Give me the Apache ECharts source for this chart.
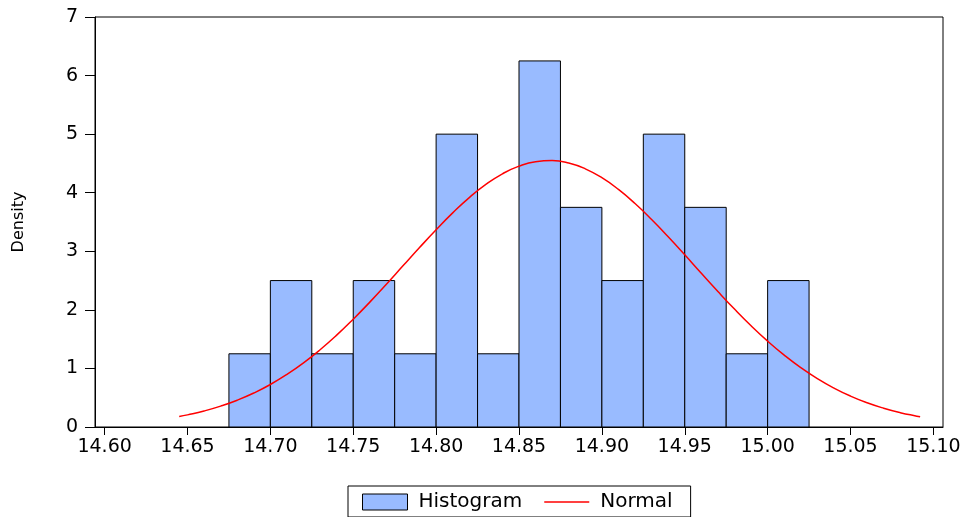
<!DOCTYPE html>
<html><head><meta charset="utf-8">
<script src="https://cdn.jsdelivr.net/npm/echarts@6/dist/echarts.min.js"></script>
<style>html,body{margin:0;padding:0;background:#fff}#c{width:967px;height:517px}</style>
</head><body><div id="c"></div>
<script>
// Histogram bins (left edges) and densities
var binStarts = [14.675,14.700,14.725,14.750,14.775,14.800,14.825,14.850,14.875,14.900,14.925,14.950,14.975,15.000];
var binWidth = 0.025;
var densities = [1.25,2.5,1.25,2.5,1.25,5,1.25,6.25,3.75,2.5,5,3.75,1.25,2.5];
// Normal curve points
var normalX = [14.645,14.65,14.66,14.67,14.68,14.69,14.70,14.71,14.72,14.73,14.74,14.75,14.76,14.77,14.78,14.79,14.80,14.81,14.82,14.83,14.84,14.85,14.86,14.87,14.88,14.89,14.90,14.91,14.92,14.93,14.94,14.95,14.96,14.97,14.98,14.99,15.00,15.01,15.02,15.03,15.04,15.05,15.06,15.07,15.08,15.09,15.092];
var normalY = [0.179,0.207,0.273,0.356,0.457,0.580,0.726,0.898,1.095,1.319,1.568,1.841,2.132,2.437,2.751,3.064,3.368,3.656,3.917,4.141,4.323,4.454,4.530,4.548,4.507,4.408,4.256,4.056,3.815,3.543,3.248,2.940,2.624,2.313,2.013,1.729,1.466,1.227,1.013,0.826,0.665,0.528,0.414,0.321,0.245,0.185,0.174];
var xTicks = [14.60,14.65,14.70,14.75,14.80,14.85,14.90,14.95,15.00,15.05,15.10];

var chart = echarts.init(document.getElementById('c'), null, {renderer:'canvas'});
var font = '"DejaVu Sans", sans-serif';
chart.setOption({
  animation: false,
  backgroundColor: '#fff',
  grid: {left:95, top:17, right:24, bottom:90, show:true, borderColor:'#000', borderWidth:1, backgroundColor:'transparent'},
  xAxis: {
    type:'value', min:14.5942, max:15.1058,
    axisLine:{show:true, lineStyle:{color:'#000', width:1}},
    axisTick:{show:true, length:8, customValues:xTicks, lineStyle:{color:'#000'}},
    axisLabel:{customValues:xTicks, formatter:function(v){return v.toFixed(2);}, color:'#000', fontSize:19, fontFamily:font, margin:11},
    splitLine:{show:false}
  },
  yAxis: {
    type:'value', min:0, max:7, interval:1,
    name:'Density', nameLocation:'middle', nameGap:68, nameRotate:90,
    nameTextStyle:{color:'#000', fontSize:16, fontFamily:font},
    axisLine:{show:true, lineStyle:{color:'#000', width:1}},
    axisTick:{show:true, length:10, lineStyle:{color:'#000'}},
    axisLabel:{color:'#000', fontSize:19, fontFamily:font, margin:17},
    splitLine:{show:false}
  },
  legend: {
    left:348, top:486, orient:'horizontal',
    borderColor:'#000', borderWidth:1, padding:[6,18,5,14],
    itemWidth:45, itemHeight:16, itemGap:22,
    textStyle:{color:'#000', fontSize:20, fontFamily:font, padding:[0,0,0,6]},
    data:[
      {name:'Histogram', icon:'rect', itemStyle:{color:'#99bbff', borderColor:'#000', borderWidth:1}},
      {name:'Normal', icon:'path://M0 0H45V1.5H0Z', itemStyle:{color:'#ff0000', borderWidth:0}}
    ]
  },
  series: [
    {
      name:'Histogram', type:'custom',
      data: binStarts.map(function(s,i){return [s, s+binWidth, densities[i]];}),
      encode:{x:[0,1], y:2},
      itemStyle:{color:'#99bbff', borderColor:'#000', borderWidth:1},
      renderItem:function(params, api){
        var p0 = api.coord([api.value(0), 0]);
        var p1 = api.coord([api.value(1), api.value(2)]);
        return {type:'rect', shape:{x:p0[0], y:p1[1], width:p1[0]-p0[0], height:p0[1]-p1[1]},
          style:{fill:'#99bbff', stroke:'#000', lineWidth:1}};
      },
      z:1
    },
    {
      name:'Normal', type:'line', smooth:true, symbol:'none',
      data: normalX.map(function(x,i){return [x, normalY[i]];}),
      lineStyle:{color:'#ff0000', width:1.5},
      itemStyle:{color:'#ff0000'},
      z:3
    }
  ]
});
</script>
</body></html>
